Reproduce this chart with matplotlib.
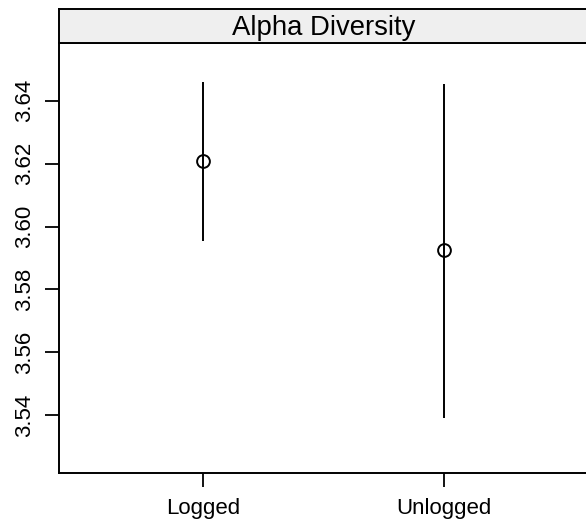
import matplotlib
matplotlib.use("Agg")
import matplotlib.pyplot as plt

plt.rcParams['font.family'] = ['Liberation Sans', 'DejaVu Sans']

# Alpha diversity estimates per logging treatment
groups = ["Logged", "Unlogged"]
means = [3.6208, 3.5924]
lower = [3.5955, 3.5392]
upper = [3.6460, 3.6452]
y_ticks = [3.54, 3.56, 3.58, 3.60, 3.62, 3.64]
strip_title = "Alpha Diversity"

W, H = 586, 524
fig = plt.figure(figsize=(W / 100, H / 100), dpi=100)

# panel box (lattice-style: right edge runs just past the figure)
left_px, right_px = 59, 588.7
bottom_px, top_px = 473.3, 43
strip_top_px = 9

ax = fig.add_axes([left_px / W, 1 - bottom_px / H,
                   (right_px - left_px) / W, (bottom_px - top_px) / H])
strip = fig.add_axes([left_px / W, 1 - top_px / H,
                      (right_px - left_px) / W, (top_px - strip_top_px) / H])

x = list(range(1, len(groups) + 1))
for xi, lo, hi in zip(x, lower, upper):
    ax.plot([xi, xi], [lo, hi], color='black', lw=1.4, solid_capstyle='butt')
ax.plot(x, means, linestyle='none', marker='o', markersize=9.2,
        markerfacecolor='none', markeredgecolor='black', markeredgewidth=1.4)

ax.set_xlim(0.4, 2.6)
ax.set_ylim(3.5216, 3.6583)
ax.set_xticks(x)
ax.set_xticklabels(groups, fontsize=16)
ax.set_yticks(y_ticks)
ax.set_yticklabels([f"{v:.2f}" for v in y_ticks], fontsize=16,
                   rotation=90, va='center')
ax.tick_params(axis='both', direction='out', length=10, width=1.3,
               color='black')
ax.tick_params(axis='x', pad=8)
ax.tick_params(axis='y', pad=7.5)
for s in ax.spines.values():
    s.set_linewidth(1.4)
    s.set_color('black')

strip.set_facecolor('#EFEFEF')
strip.set_xticks([])
strip.set_yticks([])
for s in strip.spines.values():
    s.set_linewidth(1.4)
    s.set_color('black')
strip.text(0.5, 0.226, strip_title, ha='center', va='baseline',
           fontsize=19.8, transform=strip.transAxes)

fig.savefig("out.png", dpi=100)
